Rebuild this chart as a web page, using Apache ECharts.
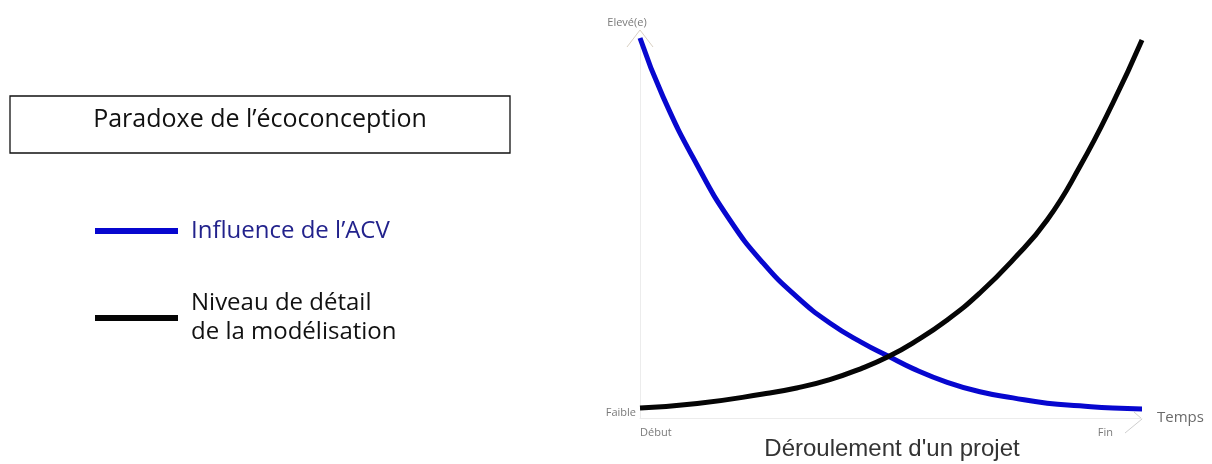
<!DOCTYPE html>
<html>
<head>
<meta charset="utf-8">
<script src="https://cdn.jsdelivr.net/npm/echarts@6/dist/echarts.min.js"></script>
<style>html,body{margin:0;padding:0;background:#fff}#c{width:1212px;height:464px}</style>
</head>
<body>
<div id="c"></div>
<script>
// Data (x: progress of project 0..100, y: level 0..100)
const influenceX = [0, 4.6, 11.4, 17.9, 24.5, 31.3, 37.8, 44.4, 49.4, 54.4, 61.2, 67.7, 74.3, 81.1, 87.6, 94.2, 100];
const influenceY = [100, 84.5, 66.5, 52.1, 40.8, 31.8, 25, 19.7, 16.3, 13.0, 9.4, 6.9, 5.3, 3.9, 3.2, 2.6, 2.4];
const detailX = [0, 11.4, 24.5, 31.2, 37.8, 44.4, 49.4, 54.4, 61.2, 67.7, 74.3, 81.1, 87.6, 94.2, 100];
const detailY = [2.6, 3.8, 6.3, 7.9, 10.1, 13.2, 16.1, 19.8, 25.8, 32.9, 41.6, 52.1, 66.1, 82.9, 99.5];
const seriesNames = ["Influence de l\u2019ACV", "Niveau de détail de la modélisation"];
const xTickLabels = ['Début', 'Fin'];
const yTickLabels = ['Faible'];
const chartTitle = "Paradoxe de l\u2019écoconception";
const xAxisTitle = "Déroulement d'un projet";
const xAxisName = 'Temps';
const yAxisName = 'Elevé(e)';

const zip = (xs, ys) => xs.map((x, i) => [x, ys[i]]);

const chart = echarts.init(document.getElementById('c'));
const grayLabel = '#7a7a7a';
chart.setOption({
  animation: false,
  backgroundColor: '#fff',
  grid: { left: 640, right: 70, top: 38, bottom: 46 },
  xAxis: {
    type: 'value', min: 0, max: 100, interval: 100,
    name: xAxisName, nameLocation: 'end', nameGap: 15,
    nameTextStyle: { color: '#6a6a6a', fontSize: 15, fontFamily: 'Open Sans', verticalAlign: 'middle', padding: [4, 0, 0, 0] },
    axisLine: { show: true, lineStyle: { color: '#ececec', width: 1 } },
    axisTick: { show: false },
    splitLine: { show: false },
    axisLabel: {
      color: grayLabel, fontSize: 11, fontFamily: 'Open Sans', margin: 9,
      alignMinLabel: 'left', alignMaxLabel: 'right',
      formatter: v => v === 0 ? xTickLabels[0] : (v === 100 ? '{f|' + xTickLabels[1] + '}' : ''),
      rich: { f: { color: grayLabel, fontSize: 11, fontFamily: 'Open Sans', padding: [0, 29, 0, 0] } }
    }
  },
  yAxis: {
    type: 'value', min: 0, max: 100, interval: 100,
    name: yAxisName, nameLocation: 'end', nameGap: 10,
    nameTextStyle: { color: grayLabel, fontSize: 11, fontFamily: 'Open Sans', align: 'center', padding: [0, 26, 0, 0] },
    axisLine: { show: true, lineStyle: { color: '#ececec', width: 1 } },
    axisTick: { show: false },
    splitLine: { show: false },
    axisLabel: {
      color: grayLabel, fontSize: 11, fontFamily: 'Open Sans', margin: 4,
      verticalAlign: 'bottom',
      formatter: v => v === 0 ? yTickLabels[0] : ''
    }
  },
  legend: [
    {
      left: 90, top: 211, orient: 'vertical',
      icon: 'rect', itemWidth: 83, itemHeight: 6, itemGap: 10,
      data: [{ name: seriesNames[0], textStyle: { color: '#22228c' } }],
      textStyle: { fontSize: 24, fontFamily: 'Open Sans', lineHeight: 30, padding: [0, 0, 0, 8] },
      selectedMode: false
    },
    {
      left: 90, top: 284, orient: 'vertical',
      icon: 'rect', itemWidth: 83, itemHeight: 6,
      data: [{ name: seriesNames[1], textStyle: { color: '#111' } }],
      formatter: () => 'Niveau de détail\nde la modélisation',
      textStyle: { fontSize: 24, fontFamily: 'Open Sans', lineHeight: 29, padding: [0, 0, 0, 8] },
      selectedMode: false
    }
  ],
  series: [
    {
      name: seriesNames[0], type: 'line', data: zip(influenceX, influenceY),
      smooth: 0.5, symbol: 'none',
      lineStyle: { color: '#0707cf', width: 5 }, itemStyle: { color: '#0707cf' }
    },
    {
      name: seriesNames[1], type: 'line', data: zip(detailX, detailY),
      smooth: 0.5, symbol: 'none',
      lineStyle: { color: '#050505', width: 5 }, itemStyle: { color: '#050505' }
    }
  ],
  graphic: [
    {
      type: 'rect', shape: { x: 10, y: 96, width: 500, height: 57 },
      style: { fill: '#fff', stroke: '#111', lineWidth: 1.3 }
    },
    {
      type: 'text', x: 260, y: 120,
      style: { text: chartTitle, fill: '#111', fontSize: 25, fontFamily: 'Open Sans', align: 'center', verticalAlign: 'middle' }
    },
    {
      type: 'text', x: 892, y: 449,
      style: { text: xAxisTitle, fill: '#333', fontSize: 24, fontFamily: 'Liberation Sans', align: 'center', verticalAlign: 'middle' }
    },
    {
      type: 'polyline', shape: { points: [[627, 47], [640, 30], [653, 47]] },
      style: { stroke: '#d9d0c2', lineWidth: 1, fill: null }
    },
    {
      type: 'polyline', shape: { points: [[1134, 412], [1142, 419], [1125, 433]] },
      style: { stroke: '#cfcfcf', lineWidth: 1, fill: null }
    }
  ]
});
</script>
</body>
</html>
